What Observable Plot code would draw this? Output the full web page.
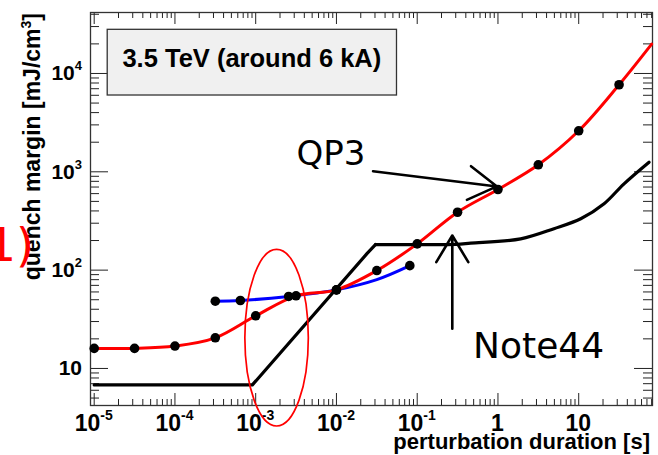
<!DOCTYPE html>
<html><head><meta charset="utf-8">
<script src="https://cdn.jsdelivr.net/npm/d3@7"></script>
<script src="https://cdn.jsdelivr.net/npm/@observablehq/plot@0.6"></script>
<style>
html,body{margin:0;padding:0;background:#fff;}
#chart svg{display:block;}
</style></head><body><div id="chart"></div>
<script>
// ---- data ----
const redX = [1e-5, 3.16e-5, 1e-4, 3.16e-4, 1e-3, 3.16e-3, 1e-2, 3.16e-2, 0.1, 0.316, 1, 3.16, 10, 31.6];
const redY = [16.0, 16.0, 16.9, 20.5, 34.3, 54.8, 63, 99, 185, 388, 661, 1178, 2612, 7680];
const redTailX = [80];
const redTailY = [19900];
const blueX = [3.16e-4, 6.46e-4, 2.56e-3, 1e-2, 3.16e-2, 8.1e-2];
const blueY = [48.3, 49.1, 54.0, 63, 80, 111];
const blueMarked = [true, true, true, true, false, true];
// black: first 4 points are straight segments, the rest a smooth tail
const blackX = [1e-5, 9.1e-4, 2.4e-2, 3.04e-2, 0.1, 0.3, 0.46, 1.91, 4.94, 10.6, 20.6, 36.4, 74.3];
const blackY = [6.8, 6.8, 148, 182, 182, 183, 188, 208, 264, 333, 473, 755, 1253];
const blackStraightCount = 4;

const xTickValues = [1e-5, 1e-4, 1e-3, 1e-2, 1e-1, 1, 10];
const xTickLabels = ["10^-5", "10^-4", "10^-3", "10^-2", "10^-1", "1", "10"];
const yTickValues = [10, 100, 1000, 10000];
const yTickLabels = ["10", "10^2", "10^3", "10^4"];

const xDomain = [9e-6, 82];
const yDomain = [4.2, 41700];

const xTitle = "perturbation duration [s]";
const yTitle = "quench margin [mJ/cm^3]";
const legendText = "3.5 TeV (around 6 kA)";
const sideMark = "1)";

// annotations in data coordinates
const annotTextRows = [
  {text: "QP3", x: 3.25e-3, y: 1159, size: 34},
  {text: "Note44", x: 0.499, y: 12.55, size: 36}
];
const arrowRows = [
  {x1: 0.0284, y1: 1014, x2: 0.972, y2: 710},
  {x1: 0.272, y1: 25.3, x2: 0.272, y2: 225}
];
const ellipseRow = {x: 1.84e-3, y: 20.3, dxDec: 0.393, dyDec: 0.898};
const legendBox = {x1: 1.47e-5, x2: 0.0562, y1: 27800, y2: 5970};

// ---- derived ----
const redLineX = redX.concat(redTailX);
const redLineY = redY.concat(redTailY);
const blueDotX = blueX.filter((d, i) => blueMarked[i]);
const blueDotY = blueY.filter((d, i) => blueMarked[i]);
const blackAX = blackX.slice(0, blackStraightCount), blackAY = blackY.slice(0, blackStraightCount);
const blackBX = blackX.slice(blackStraightCount - 1), blackBY = blackY.slice(blackStraightCount - 1);

function minorTicks(domain) {
  const out = [];
  const lo = Math.floor(Math.log10(domain[0])), hi = Math.ceil(Math.log10(domain[1]));
  for (let e = lo; e <= hi; e++) for (let m = 2; m <= 9; m++) {
    const v = m * Math.pow(10, e);
    if (v > domain[0] * 1.02 && v < domain[1] * 0.99) out.push(v);
  }
  return out;
}
const xMinor = minorTicks(xDomain);
const yMinor = minorTicks(yDomain);

const W = 658, H = 455, mL = 90, mR = 6, mT = 12, mB = 50;
const fw = W - mL - mR, fh = H - mT - mB;
const sans = "'Liberation Sans', Arial, Helvetica, sans-serif";
const comic = "'DejaVu Sans', sans-serif";
const tickColor = "#222";

function overlay(index, scales, values, dimensions) {
  const X = scales.x, Y = scales.y;
  const g = d3.create("svg:g").attr("text-anchor", "start");
  const bottom = dimensions.height - dimensions.marginBottom;
  const left = dimensions.marginLeft;
  const right = dimensions.width - dimensions.marginRight;

  // legend box
  const bx1 = X(legendBox.x1), bx2 = X(legendBox.x2), by1 = Y(legendBox.y1), by2 = Y(legendBox.y2);
  g.append("rect").attr("x", bx1).attr("y", by1).attr("width", bx2 - bx1).attr("height", by2 - by1)
    .attr("fill", "#f0f0f0").attr("stroke", "#333").attr("stroke-width", 1.3);
  g.append("text").attr("x", (bx1 + bx2) / 2).attr("y", by1 + 37.5).attr("text-anchor", "middle")
    .attr("font-family", sans).attr("font-weight", "bold").attr("font-size", 25.5).attr("fill", "#000")
    .text(legendText);

  // x tick labels
  xTickValues.forEach((v, i) => {
    const [base, exp] = xTickLabels[i].split("^");
    const t = g.append("text").attr("x", X(v)).attr("y", bottom + 26).attr("text-anchor", "middle")
      .attr("font-family", sans).attr("font-weight", "bold").attr("font-size", 23).attr("fill", "#000");
    t.append("tspan").text(base);
    if (exp) t.append("tspan").attr("dy", -11).attr("font-size", 14).text(exp);
  });
  // y tick labels
  yTickValues.forEach((v, i) => {
    const [base, exp] = yTickLabels[i].split("^");
    const t = g.append("text").attr("x", left - 8).attr("y", Y(v) + 7.5).attr("text-anchor", "end")
      .attr("font-family", sans).attr("font-weight", "bold").attr("font-size", 21).attr("fill", "#000");
    t.append("tspan").text(base);
    if (exp) t.append("tspan").attr("dy", -10).attr("font-size", 13).text(exp);
  });
  // axis titles
  g.append("text").attr("x", right - 2).attr("y", bottom + 43.5).attr("text-anchor", "end")
    .attr("font-family", sans).attr("font-weight", "bold").attr("font-size", 22).attr("fill", "#000")
    .text(xTitle);
  const [yt0, yt1] = yTitle.split("^");
  const yt = g.append("text").attr("transform", `translate(40,${dimensions.marginTop + 1}) rotate(-90)`)
    .attr("text-anchor", "end").attr("font-family", sans).attr("font-weight", "bold")
    .attr("font-size", 23).attr("fill", "#000");
  yt.append("tspan").text(yt0);
  yt.append("tspan").attr("dy", -9).attr("font-size", 14).text(yt1.replace("]", ""));
  yt.append("tspan").attr("dy", 9).text("]");

  // side mark
  g.append("text").attr("x", 34).attr("y", 261).attr("text-anchor", "end")
    .attr("font-family", comic).attr("font-size", 46).attr("fill", "#ff0000").text(sideMark);

  // annotation texts
  annotTextRows.forEach(r => {
    g.append("text").attr("x", X(r.x)).attr("y", Y(r.y)).attr("text-anchor", "start")
      .attr("font-family", comic).attr("font-size", r.size).attr("fill", "#000").text(r.text);
  });

  // ellipse
  const cx = X(ellipseRow.x), cy = Y(ellipseRow.y);
  const rx = X(ellipseRow.x * Math.pow(10, ellipseRow.dxDec)) - cx;
  const ry = cy - Y(ellipseRow.y * Math.pow(10, ellipseRow.dyDec));
  g.append("ellipse").attr("cx", cx).attr("cy", cy).attr("rx", rx).attr("ry", ry)
    .attr("fill", "none").attr("stroke", "#ff0000").attr("stroke-width", 1.7);
  return g.node();
}

const chart = Plot.plot({
  width: W, height: H,
  marginLeft: mL, marginRight: mR, marginTop: mT, marginBottom: mB,
  style: {background: "#fff", overflow: "visible"},
  x: {type: "log", domain: xDomain, axis: null},
  y: {type: "log", domain: yDomain, axis: null},
  marks: [
    Plot.tickX(xTickValues, {x: d => d, insetTop: fh - 12, stroke: tickColor}),
    Plot.tickX(xMinor, {x: d => d, insetTop: fh - 6, stroke: tickColor}),
    Plot.tickX(xTickValues, {x: d => d, insetBottom: fh - 12, stroke: tickColor}),
    Plot.tickX(xMinor, {x: d => d, insetBottom: fh - 6, stroke: tickColor}),
    Plot.tickY(yTickValues, {y: d => d, insetRight: fw - 18, stroke: tickColor}),
    Plot.tickY(yMinor, {y: d => d, insetRight: fw - 9, stroke: tickColor}),
    Plot.tickY(yTickValues, {y: d => d, insetLeft: fw - 18, stroke: tickColor}),
    Plot.tickY(yMinor, {y: d => d, insetLeft: fw - 9, stroke: tickColor}),
    Plot.frame({stroke: "#333", strokeWidth: 1.3}),
    Plot.line(blueX, {x: blueX, y: blueY, stroke: "#0000ff", strokeWidth: 3, curve: "catmull-rom"}),
    Plot.line(redLineX, {x: redLineX, y: redLineY, stroke: "#ff0000", strokeWidth: 3, curve: "catmull-rom"}),
    Plot.line(blackAX, {x: blackAX, y: blackAY, stroke: "#000", strokeWidth: 3.2, curve: "linear", strokeLinejoin: "round"}),
    Plot.line(blackBX, {x: blackBX, y: blackBY, stroke: "#000", strokeWidth: 3.2, curve: "catmull-rom"}),
    Plot.dot(blueDotX, {x: blueDotX, y: blueDotY, r: 4.8, fill: "#000"}),
    Plot.dot(redX, {x: redX, y: redY, r: 4.8, fill: "#000"}),
    Plot.arrow(arrowRows, {x1: "x1", y1: "y1", x2: "x2", y2: "y2", stroke: "#000", strokeWidth: 2.6,
      headLength: 19, headAngle: 62}),
    overlay
  ]
});
document.getElementById("chart").appendChild(chart);
</script>
</body></html>
